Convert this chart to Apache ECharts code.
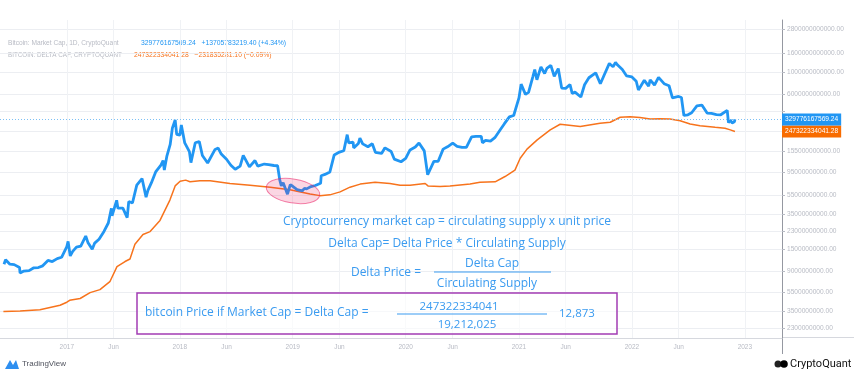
<!DOCTYPE html>
<html>
<head>
<meta charset="utf-8">
<style>
  html, body { margin: 0; padding: 0; background: #fff; }
  #chart { width: 854px; height: 377px; }
</style>
<script src="https://cdn.jsdelivr.net/npm/echarts@6/dist/echarts.min.js"></script>
</head>
<body>
<div id="chart"></div>
<script>
// Bitcoin market cap, billions USD
const mcapDates = [
  "2016-06-12", "2016-06-17", "2016-07-01", "2016-07-15", "2016-08-01", "2016-08-03", "2016-08-15",
  "2016-09-01", "2016-09-15", "2016-10-01", "2016-10-15", "2016-11-01", "2016-11-15", "2016-12-01",
  "2016-12-15", "2017-01-01", "2017-01-05", "2017-01-12", "2017-01-20", "2017-02-01", "2017-02-15",
  "2017-03-03", "2017-03-10", "2017-03-24", "2017-04-01", "2017-04-15", "2017-05-01", "2017-05-15",
  "2017-05-25", "2017-05-27", "2017-06-11", "2017-06-15", "2017-07-01", "2017-07-15", "2017-07-20",
  "2017-08-01", "2017-08-15", "2017-09-01", "2017-09-14", "2017-09-20", "2017-10-01", "2017-10-15",
  "2017-11-01", "2017-11-08", "2017-11-12", "2017-11-20", "2017-12-01", "2017-12-08", "2017-12-17",
  "2017-12-22", "2018-01-01", "2018-01-06", "2018-01-17", "2018-02-01", "2018-02-06", "2018-02-20",
  "2018-03-05", "2018-03-15", "2018-04-01", "2018-04-06", "2018-04-25", "2018-05-05", "2018-05-15",
  "2018-06-01", "2018-06-15", "2018-06-29", "2018-07-15", "2018-07-25", "2018-08-14", "2018-09-01",
  "2018-09-10", "2018-10-01", "2018-10-15", "2018-11-01", "2018-11-13", "2018-11-20", "2018-11-25",
  "2018-12-01", "2018-12-15", "2018-12-24", "2019-01-01", "2019-01-15", "2019-02-01", "2019-02-08",
  "2019-02-15", "2019-03-01", "2019-03-15", "2019-04-01", "2019-04-03", "2019-04-15", "2019-05-01",
  "2019-05-15", "2019-06-01", "2019-06-15", "2019-06-26", "2019-07-01", "2019-07-15", "2019-07-17",
  "2019-08-01", "2019-08-06", "2019-08-15", "2019-09-01", "2019-09-15", "2019-09-25", "2019-10-01",
  "2019-10-15", "2019-10-26", "2019-11-01", "2019-11-15", "2019-11-25", "2019-12-01", "2019-12-17",
  "2020-01-01", "2020-01-15", "2020-02-01", "2020-02-13", "2020-03-01", "2020-03-12", "2020-03-16",
  "2020-04-01", "2020-04-15", "2020-05-01", "2020-05-15", "2020-06-01", "2020-06-15", "2020-07-01",
  "2020-07-15", "2020-08-01", "2020-08-15", "2020-09-01", "2020-09-05", "2020-09-15", "2020-10-01",
  "2020-10-15", "2020-11-01", "2020-11-15", "2020-12-01", "2020-12-15", "2021-01-01", "2021-01-08",
  "2021-01-22", "2021-02-01", "2021-02-15", "2021-02-21", "2021-02-28", "2021-03-13", "2021-03-25",
  "2021-04-01", "2021-04-14", "2021-04-25", "2021-05-08", "2021-05-19", "2021-06-01", "2021-06-15",
  "2021-06-22", "2021-07-01", "2021-07-20", "2021-08-01", "2021-08-15", "2021-09-06", "2021-09-21",
  "2021-10-01", "2021-10-20", "2021-11-01", "2021-11-09", "2021-11-15", "2021-12-01", "2021-12-15",
  "2022-01-01", "2022-01-15", "2022-01-22", "2022-02-10", "2022-02-24", "2022-03-01", "2022-03-15",
  "2022-03-28", "2022-04-15", "2022-05-01", "2022-05-12", "2022-06-01", "2022-06-10", "2022-06-18",
  "2022-07-01", "2022-07-13", "2022-07-30", "2022-08-15", "2022-09-01", "2022-09-15", "2022-10-01",
  "2022-10-15", "2022-11-05", "2022-11-09", "2022-11-15", "2022-11-21", "2022-11-28", "2022-11-30"
];
const mcapBn = [
  10.6, 11.8, 10.6, 10.5, 9.8, 8.6, 9.0,
  9.1, 9.7, 9.8, 10.2, 11.6, 11.3, 12.1,
  12.5, 16.1, 18.2, 12.9, 14.4, 15.9, 16.3,
  20.7, 17.8, 15.1, 17.5, 19.2, 23.1, 28.2,
  40.0, 33.5, 48.3, 40.1, 40.2, 32.1, 46.9,
  45.3, 69.3, 81.0, 52.1, 61.2, 73.0, 94.7,
  111.6, 124.2, 99.2, 136.9, 182.3, 268, 325,
  231, 226.8, 289, 188.5, 153.5, 118.2, 189.4,
  194.8, 139.8, 117.1, 112.1, 161.6, 166.9, 144.9,
  128.0, 111.1, 100.9, 108.8, 140.7, 106.7, 124.2,
  108.8, 114.3, 112.7, 110.4, 109.7, 78.5, 68.1,
  73.3, 55.9, 70.0, 67.4, 62.3, 60.6, 64.2,
  63.4, 66.9, 68.7, 72.4, 86.6, 89.3, 94.8,
  142.0, 151.7, 156.6, 229.6, 188.8, 192.7, 167.7,
  185.9, 211, 184.4, 172.2, 185, 151, 149.3,
  146.9, 167.9, 166.2, 153.8, 128.6, 134.1, 120.7,
  130.6, 159.9, 171.1, 188.6, 156.2, 88.7, 91.5,
  121.9, 122.1, 162.8, 172.0, 187.8, 174.1, 169.7,
  169.9, 218.2, 220.3, 220.5, 189, 200.3, 196.8,
  213.7, 256.6, 297.9, 350.3, 361.7, 548.5, 761.5,
  597.5, 625.8, 910.6, 1075, 845, 1145, 979,
  1105, 1190, 918, 1102, 694, 689, 755,
  611, 630, 561, 750, 886, 994, 768,
  908, 1245, 1152, 1275, 1206, 1078, 925,
  903, 816, 663, 834, 726, 842, 746,
  895, 770, 733, 551, 568, 555, 362,
  368, 386, 455, 463, 383, 380, 370,
  368, 409, 305, 325, 303, 311, 329.78
];

// Bitcoin delta cap, billions USD
const deltaDates = [
  "2016-06-10", "2016-08-03", "2016-10-06", "2016-12-10", "2017-01-01", "2017-01-10", "2017-02-13",
  "2017-03-17", "2017-04-18", "2017-05-20", "2017-06-12", "2017-07-08", "2017-07-24", "2017-08-09",
  "2017-09-04", "2017-09-27", "2017-10-29", "2017-11-30", "2017-12-17", "2018-01-02", "2018-01-20",
  "2018-02-03", "2018-03-07", "2018-04-09", "2018-06-12", "2018-08-16", "2018-10-20", "2018-12-23",
  "2019-02-26", "2019-03-30", "2019-05-01", "2019-06-03", "2019-07-05", "2019-08-07", "2019-09-24",
  "2019-11-11", "2019-12-14", "2020-01-15", "2020-03-04", "2020-03-13", "2020-04-21", "2020-05-23",
  "2020-07-27", "2020-08-28", "2020-10-16", "2020-11-17", "2020-12-19", "2021-01-05", "2021-01-27",
  "2021-03-01", "2021-04-12", "2021-05-14", "2021-07-18", "2021-09-20", "2021-10-23", "2021-11-24",
  "2021-12-26", "2022-01-27", "2022-03-01", "2022-04-02", "2022-05-04", "2022-06-06", "2022-07-08",
  "2022-08-09", "2022-09-27", "2022-10-29", "2022-11-15", "2022-11-30"
];
const deltaBn = [
  3.45, 3.5, 3.6, 4.0, 4.3, 4.5, 4.7,
  5.4, 5.8, 7.0, 10.0, 11.3, 12.0, 17.0,
  21.5, 23.0, 30.0, 48.6, 68, 76, 78,
  75, 77, 77, 72, 69, 66, 62,
  56, 54, 55, 59, 66, 71, 74,
  72, 69, 69, 72, 68, 67, 68,
  71, 74, 75, 85, 99, 131, 163,
  203, 257, 294, 278, 301, 308, 347,
  352, 344, 333, 335, 333, 320, 296,
  284, 273, 267, 257, 247.32
];

const lastMcap = 329776167569.24;
const lastDelta = 247322334041.28;

// price scale ticks (log), gridlines at all, labels where not covered by the tags
const yTickValues = [2.3e9, 3.5e9, 5.5e9, 9e9, 1.5e10, 2.3e10, 3.5e10, 5.5e10, 9.5e10,
  1.55e11, 2.5e11, 4e11, 6e11, 1e12, 1.6e12, 2.8e12];
const yLabelValues = [2.3e9, 3.5e9, 5.5e9, 9e9, 1.5e10, 2.3e10, 3.5e10, 5.5e10, 9.5e10,
  1.55e11, 6e11, 1e12, 1.6e12, 2.8e12];
const xTickDates = ["2017-01-01", "2017-06-01", "2018-01-01", "2018-06-01", "2019-01-01", "2019-06-01",
  "2020-01-01", "2020-06-01", "2021-01-01", "2021-06-01", "2022-01-01", "2022-06-01", "2023-01-01"];

const BLUE = "#2196f3";
const ORANGE = "#f7731c";
const NOTE = "#3a9bf0";

const chart = echarts.init(document.getElementById("chart"));

const ts = (d) => Date.parse(d + "T00:00:00Z");
const xTicks = xTickDates.map(ts);
const noteFont = "Open Sans";

const option = {
  animation: false,
  grid: { left: 0, right: 72, top: 20, bottom: 39 },
  xAxis: {
    type: "value",
    min: ts("2016-05-30"),
    max: ts("2023-05-01"),
    axisLine: { show: true, lineStyle: { color: "#d6d8de", width: 1 } },
    axisTick: { show: false, customValues: xTicks },
    axisLabel: {
      customValues: xTicks,
      color: "#b8bbc4",
      fontSize: 6.5,
      fontFamily: "Liberation Sans",
      margin: 6,
      formatter: (v) => {
        const d = new Date(v);
        return d.getUTCMonth() === 0 ? String(d.getUTCFullYear()) : "Jun";
      },
    },
    splitLine: { show: true, lineStyle: { color: "#f0f2f5", width: 1 } },
  },
  yAxis: {
    type: "log",
    position: "right",
    min: 1.84e9,
    max: 3.49e12,
    axisLine: { show: true, lineStyle: { color: "#9598a1", width: 1 } },
    axisTick: { show: true, length: 3, customValues: yTickValues, lineStyle: { color: "#b8bbc4" } },
    axisLabel: {
      customValues: yLabelValues,
      color: "#b8bbc4",
      fontSize: 6.6,
      fontFamily: "Liberation Sans",
      margin: 5,
      formatter: (v) => Math.round(v).toFixed(2),
    },
    splitLine: { show: true, lineStyle: { color: "#eceef2", width: 1 } },
  },
  series: [
    {
      name: "Delta Cap",
      type: "line",
      showSymbol: false,
      data: deltaDates.map((d, i) => [ts(d), deltaBn[i] * 1e9]),
      lineStyle: { color: ORANGE, width: 1.5 },
      itemStyle: { color: ORANGE },
      z: 2,
      markLine: {
        silent: true,
        symbol: "none",
        lineStyle: { color: "rgba(0,0,0,0)", width: 1 },
        label: {
          show: true,
          position: "end",
          distance: 0,
          formatter: lastDelta.toFixed(2),
          color: "#fff",
          backgroundColor: "#f86c00",
          fontSize: 6.6,
          fontFamily: "Liberation Sans",
          padding: [3, 3, 2, 3],
        },
        data: [{ yAxis: lastDelta }],
      },
    },
    {
      name: "Market Cap",
      type: "line",
      showSymbol: false,
      data: mcapDates.map((d, i) => [ts(d), mcapBn[i] * 1e9]),
      lineStyle: { color: BLUE, width: 2.8 },
      itemStyle: { color: BLUE },
      z: 3,
      markLine: {
        silent: true,
        symbol: "none",
        lineStyle: { color: "#7cc0f5", type: [1, 2], width: 1 },
        label: {
          show: true,
          position: "end",
          distance: 0,
          formatter: lastMcap.toFixed(2),
          color: "#fff",
          backgroundColor: BLUE,
          fontSize: 6.6,
          fontFamily: "Liberation Sans",
          padding: [3, 3, 2, 3],
        },
        data: [{ yAxis: lastMcap }],
      },
    },
  ],
  graphic: [
    // legend lines, top left
    { type: "text", x: 8, y: 43, style: { text: "Bitcoin: Market Cap, 1D, CryptoQuant", fill: "#b8bbc4", font: "6.6px Liberation Sans", verticalAlign: "middle" } },
    { type: "text", x: 141, y: 43, style: { text: "329776167569.24   +13705783219.40 (+4.34%)", fill: BLUE, font: "6.8px Liberation Sans", verticalAlign: "middle" } },
    { type: "text", x: 8, y: 55, style: { text: "BITCOIN: DELTA CAP, CRYPTOQUANT", fill: "#b8bbc4", font: "6.3px Liberation Sans", verticalAlign: "middle" } },
    { type: "text", x: 134, y: 55, style: { text: "247322334041.28   \u2212231835281.10 (\u22120.09%)", fill: ORANGE, font: "6.8px Liberation Sans", verticalAlign: "middle" } },

    // highlighted area around early 2019
    {
      type: "ellipse",
      x: 293, y: 191, rotation: -0.16,
      shape: { cx: 0, cy: 0, rx: 27, ry: 12 },
      style: { fill: "rgba(233,30,99,0.18)", stroke: "rgba(233,30,99,0.55)", lineWidth: 1 },
      z: 10,
    },

    // formula notes
    { type: "text", x: 447, y: 222, z: 10, style: { text: "Cryptocurrency market cap = circulating supply x unit price", fill: NOTE, font: `12px ${noteFont}`, align: "center", verticalAlign: "middle" } },
    { type: "text", x: 447, y: 244, z: 10, style: { text: "Delta Cap= Delta Price * Circulating Supply", fill: NOTE, font: `12px ${noteFont}`, align: "center", verticalAlign: "middle" } },
    { type: "text", x: 386, y: 273, z: 10, style: { text: "Delta Price =", fill: NOTE, font: `12px ${noteFont}`, align: "center", verticalAlign: "middle" } },
    { type: "text", x: 492, y: 264, z: 10, style: { text: "Delta Cap", fill: NOTE, font: `12px ${noteFont}`, align: "center", verticalAlign: "middle" } },
    { type: "line", z: 10, shape: { x1: 434, y1: 272, x2: 551, y2: 272 }, style: { stroke: NOTE, lineWidth: 1 } },
    { type: "text", x: 487, y: 284, z: 10, style: { text: "Circulating Supply", fill: NOTE, font: `12px ${noteFont}`, align: "center", verticalAlign: "middle" } },

    // result box
    { type: "rect", z: 10, shape: { x: 137, y: 293, width: 480, height: 41 }, style: { fill: "rgba(255,255,255,0.6)", stroke: "#a23cb4", lineWidth: 1.5 } },
    { type: "text", x: 145, y: 313, z: 11, style: { text: "bitcoin Price if Market Cap = Delta Cap =", fill: NOTE, font: `12px ${noteFont}`, verticalAlign: "middle" } },
    { type: "text", x: 459, y: 307, z: 11, style: { text: "247322334041", fill: NOTE, font: `11.5px ${noteFont}`, align: "center", verticalAlign: "middle" } },
    { type: "line", z: 11, shape: { x1: 397, y1: 314, x2: 547, y2: 314 }, style: { stroke: NOTE, lineWidth: 1 } },
    { type: "text", x: 467, y: 325, z: 11, style: { text: "19,212,025", fill: NOTE, font: `11.5px ${noteFont}`, align: "center", verticalAlign: "middle" } },
    { type: "text", x: 559, y: 314, z: 11, style: { text: "12,873", fill: NOTE, font: `11.5px ${noteFont}`, verticalAlign: "middle" } },

    // axis line extensions
    { type: "line", shape: { x1: 782.5, y1: 338, x2: 782.5, y2: 354 }, style: { stroke: "#9598a1", lineWidth: 1 } },
    { type: "line", shape: { x1: 782, y1: 337.5, x2: 854, y2: 337.5 }, style: { stroke: "#d6d8de", lineWidth: 1 } },

    // TradingView mark
    { type: "polygon", shape: { points: [[5, 369], [10, 360], [13, 365], [16, 360], [19, 369]] }, style: { fill: "#2e8ff0" } },
    { type: "text", x: 22, y: 364, style: { text: "TradingView", fill: "#50535e", font: "8px Liberation Sans", verticalAlign: "middle" } },

    // CryptoQuant mark
    { type: "circle", shape: { cx: 778, cy: 364, r: 3.5 }, style: { fill: "#222" } },
    { type: "circle", shape: { cx: 784, cy: 364, r: 3.8 }, style: { fill: "#000" } },
    { type: "text", x: 790, y: 364, style: { text: "CryptoQuant", fill: "#111", font: "11px Roboto", verticalAlign: "middle" } },
  ],
};

chart.setOption(option);
</script>
</body>
</html>
